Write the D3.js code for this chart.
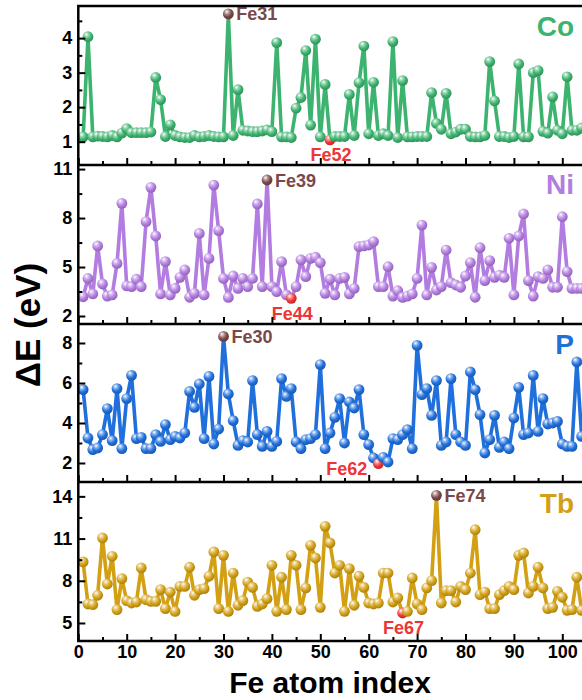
<!DOCTYPE html>
<html><head><meta charset="utf-8">
<script src="https://cdn.jsdelivr.net/npm/d3@7/dist/d3.min.js"></script>
<style>body{margin:0;background:#fff}svg{display:block;font-family:"Liberation Sans",Arial,Helvetica,sans-serif}</style>
</head><body>
<svg id="chart" width="582" height="700"></svg>
<script>
// ---------------- data ----------------
const atomIndex = d3.range(1, 105);
const coValues = [1.14,4.04,1.14,1.16,1.15,1.14,1.18,1.14,1.25,1.38,
 1.26,1.26,1.26,1.26,1.28,2.86,2.22,1.15,1.49,1.18,
 1.14,1.12,1.12,1.18,1.14,1.15,1.18,1.15,1.14,1.14,
 4.70,1.18,2.51,1.33,1.31,1.29,1.29,1.31,1.34,1.29,
 3.87,1.14,1.14,1.12,1.97,2.28,3.64,1.48,3.97,1.14,
 2.66,1.05,1.15,1.15,1.15,2.37,1.18,2.71,3.77,1.23,
 2.72,1.18,1.23,1.18,3.90,1.12,2.77,1.14,1.14,1.15,
 1.15,1.15,2.42,1.53,1.36,2.40,1.23,1.28,1.36,1.36,
 1.15,1.14,1.14,1.18,3.32,2.18,1.15,1.15,1.12,1.15,
 3.25,1.14,1.14,3.00,3.06,1.30,1.25,2.30,1.33,1.23,
 2.88,1.33,1.33,1.40];
const niValues = [3.18,4.30,3.35,6.29,3.96,3.22,3.29,5.22,8.90,3.84,
 3.80,4.25,3.80,7.78,9.88,6.90,3.35,5.33,3.29,3.69,
 4.37,4.82,3.15,3.39,7.06,3.29,5.53,10.02,7.23,4.30,
 3.14,4.45,3.69,4.30,3.80,4.30,8.86,3.80,10.33,3.80,
 3.49,5.33,3.29,3.08,3.80,5.43,4.41,5.53,5.60,5.27,
 3.39,4.25,3.29,4.30,4.37,3.35,3.69,6.25,6.29,6.35,
 6.56,3.80,3.80,5.02,3.22,3.55,3.14,3.22,3.35,4.30,
 7.57,3.29,4.98,3.59,3.80,6.04,4.04,3.90,3.76,4.45,
 5.27,3.15,6.18,4.17,5.39,4.37,4.51,4.37,6.76,3.29,
 6.90,8.25,4.17,3.22,4.41,4.30,4.82,3.76,3.76,8.08,
 4.72,3.69,3.69,3.69];
const pValues = [5.67,3.25,2.67,2.75,3.42,4.72,3.12,5.72,2.72,5.22,
 6.38,3.22,3.28,2.72,2.72,3.42,3.08,3.92,3.17,3.33,
 3.25,3.50,5.58,4.78,5.95,3.22,6.33,2.95,3.70,8.33,
 5.45,4.12,2.88,3.12,3.05,6.12,3.42,2.83,3.58,2.83,
 3.08,6.22,5.33,5.72,3.05,2.72,3.17,3.22,3.42,6.92,
 2.72,3.50,4.28,5.22,3.00,5.05,4.75,5.67,3.42,2.92,
 2.25,1.97,2.28,2.05,3.22,3.17,3.42,3.67,2.72,7.88,
 5.42,5.72,4.38,6.12,2.88,3.05,6.22,3.42,3.05,2.88,
 6.55,5.67,4.42,2.50,3.17,4.38,2.78,3.05,2.72,4.25,
 5.78,3.42,3.50,6.38,3.58,5.22,3.95,4.00,4.08,2.95,
 2.83,2.83,7.05,3.33];
const tbValues = [9.34,6.35,6.30,6.97,11.04,7.77,9.74,5.95,8.15,6.59,
 6.42,6.49,8.91,6.66,6.54,6.54,7.37,6.02,7.20,5.82,
 7.60,7.60,8.96,6.97,7.37,7.44,8.32,10.05,6.02,9.81,
 5.82,8.55,6.26,6.59,7.91,7.53,6.18,6.35,6.73,9.10,
 5.83,8.25,5.95,9.81,9.10,5.95,7.49,10.52,9.62,6.11,
 11.87,10.69,8.55,9.10,5.83,8.86,6.26,8.32,7.53,6.42,
 6.35,6.42,8.55,8.55,6.49,6.78,5.71,5.82,8.20,6.35,
 5.95,7.49,8.01,14.07,6.42,7.30,7.30,6.49,7.60,7.37,
 8.55,11.63,7.01,7.20,6.02,6.02,7.01,7.30,7.60,7.37,
 9.81,9.98,7.13,7.60,8.96,7.49,6.02,6.11,7.25,6.83,
 5.90,5.95,8.25,5.90];

const elements = ["Co", "Ni", "P", "Tb"];
const maxAtoms = [31, 39, 30, 74];
const minAtoms = [52, 44, 62, 67];
const yMajorTicks = [[1,2,3,4],[2,5,8,11],[2,4,6,8],[5,8,11,14]];
const yMinorTicks = [[1.5,2.5,3.5,4.5],[3.5,6.5,9.5],[3,5,7],[6.5,9.5,12.5]];
const yDomains = [[0.325,4.93],[1.51,11.25],[1.05,8.95],[3.72,15.02]];
const xMajorTicks = d3.range(0, 101, 10);
const xMinorTicks = d3.range(5, 105, 10);

// ---------------- style / layout ----------------
const colors = ["#3cb36e", "#b27ce0", "#1f6fdc", "#d3a014"];
const maxColor = "#7a4848", minColor = "#ee3535";
const panelTops = [6, 165, 324, 482];
const panelBottoms = [165, 324, 482, 641];
const left = 78.3;

const svg = d3.select("#chart");
const defs = svg.append("defs");
function sphere(id, c) {
  const g = defs.append("radialGradient").attr("id", id)
    .attr("cx", "0.4").attr("cy", "0.35").attr("r", "0.65").attr("fx", "0.35").attr("fy", "0.28");
  const base = d3.color(c);
  g.append("stop").attr("offset", "0%").attr("stop-color", "#ffffff");
  g.append("stop").attr("offset", "30%").attr("stop-color", d3.interpolateRgb("#ffffff", c)(0.55));
  g.append("stop").attr("offset", "65%").attr("stop-color", c);
  g.append("stop").attr("offset", "100%").attr("stop-color", base.darker(0.6).formatHex());
}
colors.forEach((c, i) => sphere("g" + i, c));
sphere("gmax", maxColor);
sphere("gmin", minColor);

const x = d3.scaleLinear().domain([0, 105]).range([left, left + 4.84 * 105]);

const seriesValues = [coValues, niValues, pValues, tbValues];

elements.forEach((el, p) => {
  const vals = seriesValues[p];
  const y = d3.scaleLinear().domain(yDomains[p]).range([panelBottoms[p], panelTops[p]]);
  const g = svg.append("g");
  const data = atomIndex.map((a, i) => ({a, v: vals[i]}));

  // line
  g.append("path").datum(data)
    .attr("fill", "none").attr("stroke", colors[p]).attr("stroke-width", 3.6)
    .attr("stroke-linejoin", "round")
    .attr("d", d3.line().x(d => x(d.a)).y(d => y(d.v)));

  // points
  g.selectAll("circle.pt").data(data).join("circle")
    .attr("class", "pt")
    .attr("cx", d => x(d.a)).attr("cy", d => y(d.v)).attr("r", 5.4)
    .attr("fill", d => d.a === maxAtoms[p] ? "url(#gmax)" : d.a === minAtoms[p] ? "url(#gmin)" : `url(#g${p})`);

  // annotations
  const mx = data.find(d => d.a === maxAtoms[p]);
  g.append("text").attr("x", x(mx.a) + 8).attr("y", y(mx.v) + 6.5)
    .attr("fill", maxColor).attr("font-size", 18).attr("font-weight", "bold")
    .text("Fe" + mx.a);
  const mn = data.find(d => d.a === minAtoms[p]);
  const isLeft = p === 2;
  g.append("text")
    .attr("x", isLeft ? x(mn.a) - 11 : x(mn.a) + 1)
    .attr("y", isLeft ? y(mn.v) + 11.5 : y(mn.v) + 21.5)
    .attr("text-anchor", isLeft ? "end" : "middle")
    .attr("fill", minColor).attr("font-size", 18).attr("font-weight", "bold")
    .text("Fe" + mn.a);

  // element label
  svg.append("text").attr("x", 574).attr("y", panelTops[p] + [30, 29, 30, 31][p])
    .attr("text-anchor", "end").attr("fill", colors[p])
    .attr("font-size", 28).attr("font-weight", "bold").text(el);

  // y axis major
  const ya = svg.append("g").attr("transform", `translate(${left},0)`)
    .call(d3.axisLeft(y).tickValues(yMajorTicks[p]).tickSize(-7).tickPadding(6).tickFormat(d3.format("d")));
  ya.select(".domain").remove();
  ya.selectAll(".tick line").attr("stroke", "#000").attr("stroke-width", 2);
  ya.selectAll(".tick text").attr("font-size", 18).attr("font-weight", "bold")
    .attr("font-family", '"Liberation Sans",Arial,sans-serif').attr("fill", "#000");
  const ym = svg.append("g").attr("transform", `translate(${left},0)`)
    .call(d3.axisLeft(y).tickValues(yMinorTicks[p]).tickSize(-4).tickFormat(""));
  ym.select(".domain").remove();
  ym.selectAll(".tick line").attr("stroke", "#000").attr("stroke-width", 2);

  // x ticks (inward from panel bottom)
  const xa = svg.append("g").attr("transform", `translate(0,${panelBottoms[p]})`)
    .call(d3.axisBottom(x).tickValues(xMajorTicks).tickSize(-7).tickPadding(4)
      .tickFormat(p === 3 ? d3.format("d") : ""));
  xa.select(".domain").remove();
  xa.selectAll(".tick line").attr("stroke", "#000").attr("stroke-width", 2);
  xa.selectAll(".tick text").attr("font-size", 18).attr("font-weight", "bold")
    .attr("font-family", '"Liberation Sans",Arial,sans-serif').attr("fill", "#000");
  const xm = svg.append("g").attr("transform", `translate(0,${panelBottoms[p]})`)
    .call(d3.axisBottom(x).tickValues(xMinorTicks).tickSize(-4).tickFormat(""));
  xm.select(".domain").remove();
  xm.selectAll(".tick line").attr("stroke", "#000").attr("stroke-width", 2);
});

// frames
svg.append("rect").attr("x", left).attr("y", panelTops[0]).attr("width", 520)
  .attr("height", panelBottoms[3] - panelTops[0])
  .attr("fill", "none").attr("stroke", "#000").attr("stroke-width", 2.5);
panelBottoms.slice(0, 3).forEach(b => {
  svg.append("line").attr("x1", left).attr("x2", 600).attr("y1", b).attr("y2", b)
    .attr("stroke", "#000").attr("stroke-width", 2.5);
});

// titles
svg.append("text").attr("x", 330).attr("y", 693).attr("text-anchor", "middle")
  .attr("font-size", 30).attr("font-weight", "bold").text("Fe atom index");
svg.append("text").attr("transform", "translate(40,325) rotate(-90)").attr("text-anchor", "middle")
  .attr("font-size", 35).attr("font-weight", "bold").text("ΔE (eV)");
</script>
</body></html>
